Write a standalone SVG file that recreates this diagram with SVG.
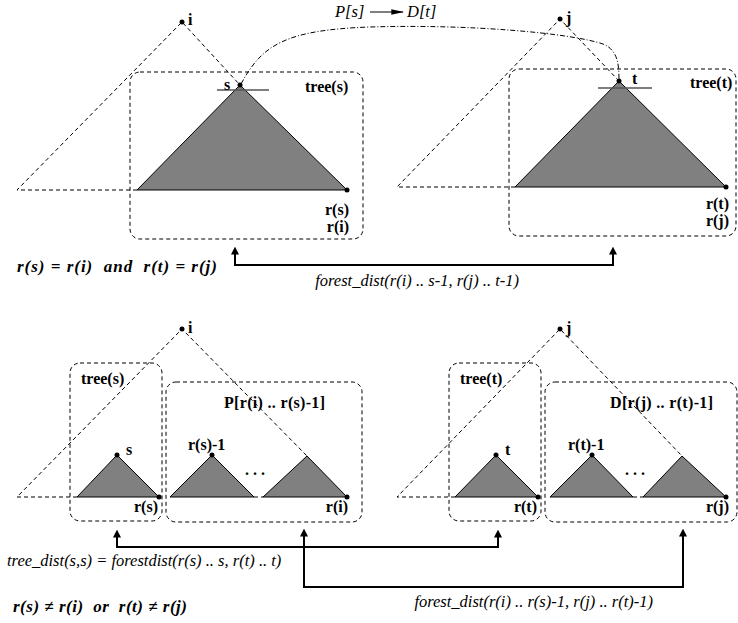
<svg xmlns="http://www.w3.org/2000/svg" width="738" height="623" viewBox="0 0 738 623">
  <style>
    .dash { fill: none; stroke: #000; stroke-width: 1; stroke-dasharray: 4 3; }
    .box { fill: none; stroke: #000; stroke-width: 1; stroke-dasharray: 4 3; }
    .tri { fill: #808080; stroke: #000; stroke-width: 1; stroke-linejoin: round; }
    .dot { fill: #000; }
    .cut { stroke: #555; stroke-width: 1.5; }
    text { font-family: 'Liberation Serif', 'Times New Roman', 'DejaVu Serif', serif; fill: #000; }
    .lbl { font-weight: bold; font-size: 16px; }
    .cap { font-style: italic; font-size: 16.5px; }
    .cond { font-style: italic; font-weight: bold; font-size: 17px; }
    .link { fill: none; stroke: #000; stroke-width: 2; marker-start: url(#up); marker-end: url(#up); }
    .map { fill: none; stroke: #000; stroke-width: 1; stroke-dasharray: 5 2 1 2; }
  </style>
  <defs>
    <marker id="up" viewBox="0 0 10 10" refX="2" refY="5" markerWidth="4" markerHeight="4" orient="auto-start-reverse" markerUnits="strokeWidth">
      <path d="M0,0 L10,5 L0,10 z" fill="#000"/>
    </marker>
    <marker id="tip" viewBox="0 0 10 10" refX="9" refY="5" markerWidth="13" markerHeight="7" orient="auto" markerUnits="userSpaceOnUse" preserveAspectRatio="none">
      <path d="M0,1 L10,5 L0,9 z" fill="#000"/>
    </marker>
  </defs>

  <!-- upper case: whole subtree of s inside i -->
  <g id="tree-i-top">
    <path class="dash" d="M137,190 L17,190 L182,22 L240,85"/>
    <circle class="dot" cx="182" cy="22" r="2.5"/>
    <text class="lbl" x="188" y="25">i</text>
  </g>
  <g id="tree-s-top">
    <rect class="box" x="130" y="72" width="233" height="167" rx="10"/>
    <polygon class="tri" points="240,85 137,190 347,190"/>
    <line class="cut" x1="217" y1="90" x2="269" y2="90"/>
    <circle class="dot" cx="240" cy="85" r="2.5"/>
    <circle class="dot" cx="347" cy="190" r="2.5"/>
    <text class="lbl" x="224" y="90">s</text>
    <text class="lbl" x="305" y="92">tree(s)</text>
    <text class="lbl" x="349" y="215" text-anchor="end">r(s)</text>
    <text class="lbl" x="349" y="232" text-anchor="end">r(i)</text>
  </g>
  <g id="tree-j-top">
    <path class="dash" d="M515,187 L397,187 L560,19 L619,81"/>
    <circle class="dot" cx="560" cy="19" r="2.5"/>
    <text class="lbl" x="566" y="23">j</text>
  </g>
  <g id="tree-t-top">
    <rect class="box" x="509" y="69" width="227" height="167" rx="10"/>
    <polygon class="tri" points="619,81 515,187 726,187"/>
    <line class="cut" x1="598" y1="88" x2="652" y2="88"/>
    <circle class="dot" cx="619" cy="81" r="2.5"/>
    <circle class="dot" cx="726" cy="187" r="2.5"/>
    <text class="lbl" x="632" y="84">t</text>
    <text class="lbl" x="690" y="88">tree(t)</text>
    <text class="lbl" x="729" y="209" text-anchor="end">r(t)</text>
    <text class="lbl" x="729" y="226" text-anchor="end">r(j)</text>
  </g>

  <!-- lower case: s and t are not rightmost -->
  <g id="tree-i-bottom">
    <path class="dash" d="M77,497 L17,497 L182,329 L307,456"/>
    <line class="dash" x1="254" y1="497" x2="263" y2="497"/>
    <circle class="dot" cx="182" cy="329" r="2.5"/>
    <text class="lbl" x="188" y="333">i</text>
  </g>
  <g id="tree-s-bottom">
    <rect class="box" x="70" y="363" width="92" height="158" rx="10"/>
    <polygon class="tri" points="117,455 77,497 159,497"/>
    <circle class="dot" cx="117" cy="455" r="2.5"/>
    <circle class="dot" cx="159" cy="497" r="2.5"/>
    <text class="lbl" x="81" y="384">tree(s)</text>
    <text class="lbl" x="126" y="455">s</text>
    <text class="lbl" x="158" y="512" text-anchor="end">r(s)</text>
  </g>
  <g id="forest-p">
    <rect class="box" x="166" y="382" width="196" height="140" rx="10"/>
    <polygon class="tri" points="212,455 170,497 254,497"/>
    <polygon class="tri" points="307,456 263,497 347,497"/>
    <circle class="dot" cx="212" cy="455" r="2.5"/>
    <circle class="dot" cx="347" cy="497" r="2.5"/>
    <text class="lbl" x="224" y="408" textLength="101">P[r(i) .. r(s)-1]</text>
    <text class="lbl" x="188" y="450">r(s)-1</text>
    <text class="lbl" x="245" y="475" letter-spacing="4">...</text>
    <text class="lbl" x="348" y="512" text-anchor="end">r(i)</text>
  </g>
  <g id="tree-j-bottom">
    <path class="dash" d="M455,497 L397,497 L560,329 L682,456"/>
    <line class="dash" x1="633" y1="497" x2="643" y2="497"/>
    <circle class="dot" cx="560" cy="329" r="2.5"/>
    <text class="lbl" x="566" y="333">j</text>
  </g>
  <g id="tree-t-bottom">
    <rect class="box" x="449" y="363" width="92" height="158" rx="10"/>
    <polygon class="tri" points="496,455 455,497 538,497"/>
    <circle class="dot" cx="496" cy="455" r="2.5"/>
    <circle class="dot" cx="538" cy="497" r="2.5"/>
    <text class="lbl" x="460" y="384">tree(t)</text>
    <text class="lbl" x="505" y="455">t</text>
    <text class="lbl" x="537" y="512" text-anchor="end">r(t)</text>
  </g>
  <g id="forest-d">
    <rect class="box" x="545" y="382" width="192" height="140" rx="10"/>
    <polygon class="tri" points="592,455 550,497 633,497"/>
    <polygon class="tri" points="682,456 643,497 726,497"/>
    <circle class="dot" cx="592" cy="455" r="2.5"/>
    <circle class="dot" cx="726" cy="497" r="2.5"/>
    <text class="lbl" x="610" y="408" textLength="103">D[r(j) .. r(t)-1]</text>
    <text class="lbl" x="568" y="450">r(t)-1</text>
    <text class="lbl" x="625" y="475" letter-spacing="4">...</text>
    <text class="lbl" x="729" y="512" text-anchor="end">r(j)</text>
  </g>

  <!-- connectors -->
  <g id="connectors">
    <path class="map" d="M241,84 C262,45 285,30 370,27 C470,24 570,33 603,44 C618,50 619,65 619,80"/>
    <line x1="370" y1="12" x2="403" y2="12" stroke="#000" stroke-width="1.2" marker-end="url(#tip)"/>
    <polyline class="link" points="235,253 235,265 613,265 613,253"/>
    <polyline class="link" points="117,536 117,547 498,547 498,536"/>
    <polyline class="link" points="304,535 304,587 683,587 683,535"/>
  </g>

  <!-- captions -->
  <g id="captions">
    <text class="cap" x="335" y="17" font-size="17">P[s]</text>
    <text class="cap" x="407" y="17" font-size="17">D[t]</text>
    <text class="cap" x="519" y="286" text-anchor="end">forest_dist(r(i) .. s-1, r(j) .. t-1)</text>
    <text class="cap" x="7" y="566">tree_dist(s,s) = forestdist(r(s) .. s, r(t) .. t)</text>
    <text class="cap" x="653" y="607" text-anchor="end">forest_dist(r(i) .. r(s)-1, r(j) .. r(t)-1)</text>
    <text class="cond" x="17" y="272" textLength="200" xml:space="preserve">r(s) = r(i)  and  r(t) = r(j)</text>
    <text class="cond" x="13" y="612" textLength="174" xml:space="preserve">r(s) ≠ r(i)  or  r(t) ≠ r(j)</text>
  </g>
</svg>
